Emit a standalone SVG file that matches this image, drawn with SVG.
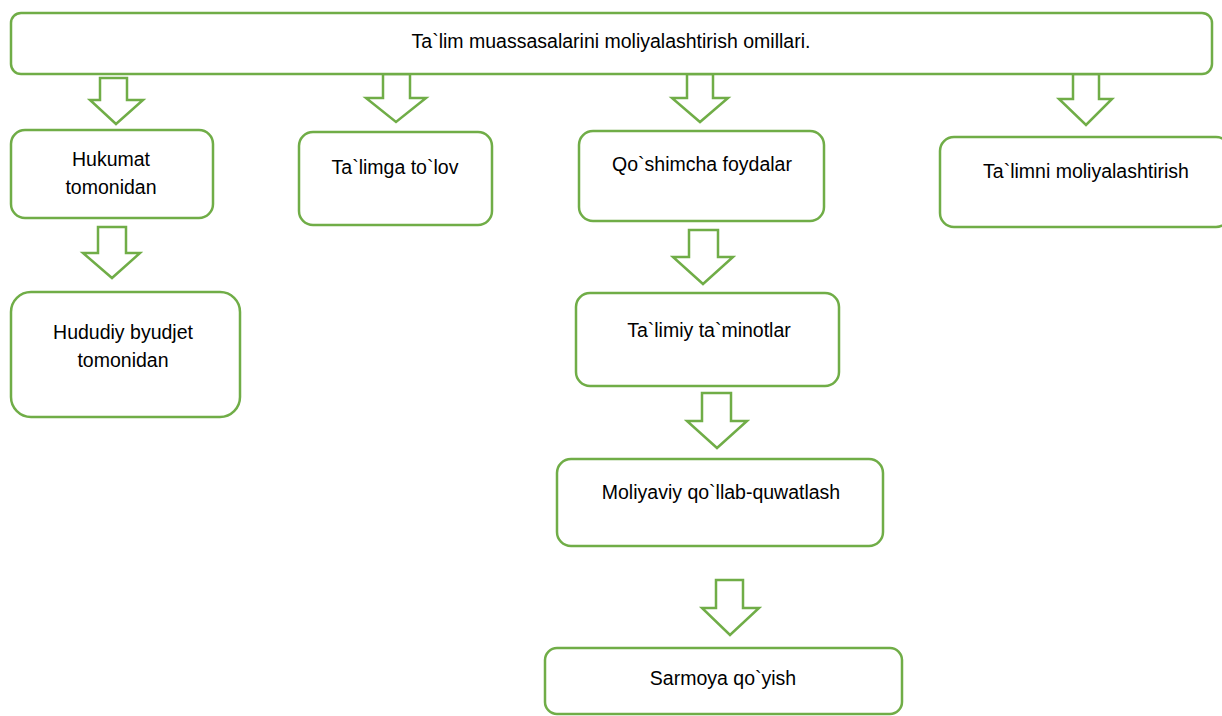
<svg xmlns="http://www.w3.org/2000/svg" width="1222" height="716" viewBox="0 0 1222 716">
<style>
.box{fill:#fff;stroke:#70AD47;stroke-width:2.5}
.arr{fill:#fff;stroke:#70AD47;stroke-width:2.5;stroke-linejoin:miter}
text{font-family:"Liberation Sans",Arial,sans-serif;font-size:19.5px;fill:#000;text-anchor:middle}
</style>
<rect width="1222" height="716" fill="#fff"/>
<g id="connectors">
<polygon class="arr" points="100,78 127,78 127,100 143,100 116,124 90,100 100,100"/>
<polygon class="arr" points="383,74 410,74 410,98 426,98 396,122 366,98 383,98"/>
<polygon class="arr" points="687,74 713,74 713,98 728,98 700,122 672,98 687,98"/>
<polygon class="arr" points="1073,74 1099,74 1099,99 1112,99 1086,125 1059,99 1073,99"/>
<polygon class="arr" points="98,227 126,227 126,253 140,253 112,278 83,253 98,253"/>
<polygon class="arr" points="689,230 718,230 718,257 733,257 703,284 673,257 689,257"/>
<polygon class="arr" points="702,393 731,393 731,421 747,421 717,448 687,421 702,421"/>
<polygon class="arr" points="716,580 743,580 743,608 759,608 730,635 702,608 716,608"/>
</g>
<g id="top">
<rect class="box" x="11" y="13" width="1201" height="61" rx="10"/>
<text x="611" y="48">Ta`lim muassasalarini moliyalashtirish omillari.</text>
</g>
<g id="hukumat">
<rect class="box" x="11" y="130" width="202" height="88" rx="14"/>
<text x="111" y="166">Hukumat</text>
<text x="111" y="194">tomonidan</text>
</g>
<g id="talimga">
<rect class="box" x="299" y="132" width="193" height="93" rx="14"/>
<text x="395" y="174">Ta`limga to`lov</text>
</g>
<g id="qoshimcha">
<rect class="box" x="579" y="131" width="245" height="90" rx="14"/>
<text x="702" y="171">Qo`shimcha foydalar</text>
</g>
<g id="talimni">
<rect class="box" x="940" y="137" width="290" height="90" rx="14"/>
<text x="1086" y="178">Ta`limni moliyalashtirish</text>
</g>
<g id="hududiy">
<rect class="box" x="11" y="292" width="229" height="125" rx="20"/>
<text x="123" y="339">Hududiy byudjet</text>
<text x="123" y="367">tomonidan</text>
</g>
<g id="talimiy">
<rect class="box" x="576" y="293" width="263" height="93" rx="14"/>
<text x="709" y="337">Ta`limiy ta`minotlar</text>
</g>
<g id="moliyaviy">
<rect class="box" x="557" y="459" width="326" height="87" rx="14"/>
<text x="721" y="499">Moliyaviy qo`llab-quwatlash</text>
</g>
<g id="sarmoya">
<rect class="box" x="545" y="648" width="357" height="66" rx="12"/>
<text x="723" y="685">Sarmoya qo`yish</text>
</g>
</svg>
